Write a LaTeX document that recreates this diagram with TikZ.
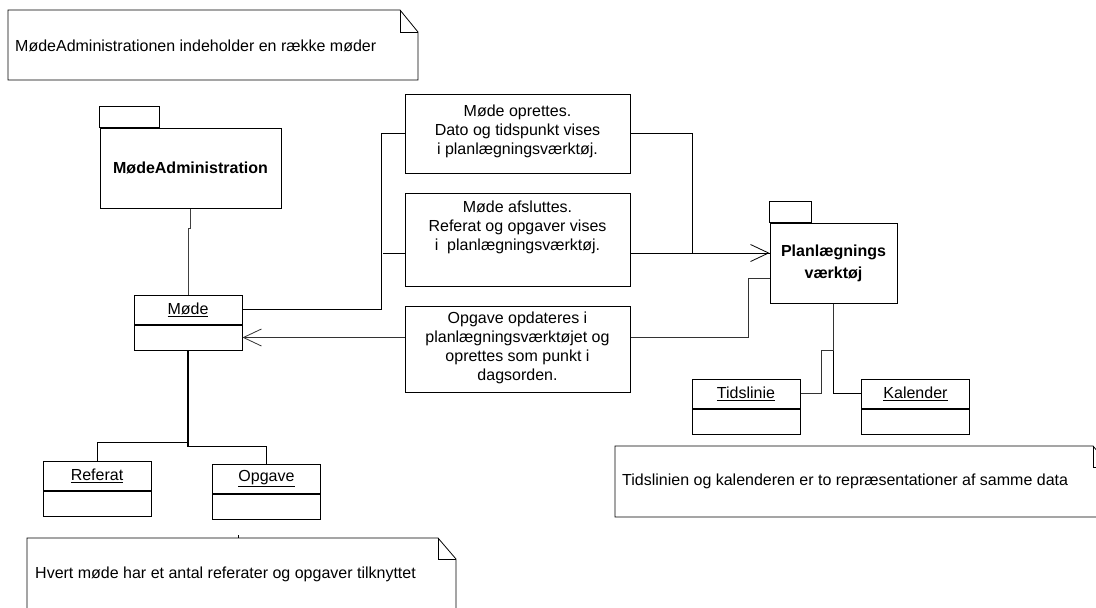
\documentclass[tikz,border=0pt]{standalone}
\usepackage{fontspec}
\setmainfont{Liberation Sans}
\usetikzlibrary{arrows.meta}

\tikzset{
  pkg/.style={draw, line width=1pt, inner sep=0pt, align=center,
    font=\fontsize{16}{22}\selectfont\bfseries},
  objhead/.style={draw, line width=1pt, minimum width=108pt, minimum height=29pt,
    inner sep=0pt, font=\fontsize{16}{19}\selectfont},
  objbody/.style={draw, line width=1pt, minimum width=108pt, minimum height=25pt,
    inner sep=0pt, anchor=north},
  msgbox/.style={draw, line width=1pt, minimum width=225pt, inner sep=0pt},
  msgtext/.style={align=center, inner sep=0pt, font=\fontsize{16}{19}\selectfont},
  notetext/.style={anchor=west, inner sep=0pt, font=\fontsize{16}{19}\selectfont},
  noteline/.style={line width=0.8pt},
  conn/.style={line width=0.8pt},
  arr/.style={conn, -{Straight Barb[length=18pt, width=17pt]}},
}

\begin{document}
\begin{tikzpicture}[x=1pt, y=-1pt]
  \useasboundingbox (0,0) rectangle (1096,608);
  \clip (0,0) rectangle (1096,608);
  % Notes
  \draw[noteline] (8,10) -- (400,10) -- (418,32) -- (418,80) -- (8,80) -- cycle;
  \draw[noteline] (400,10) -- (400,32) -- (418,32);
  \node[notetext] (noteadmin) at (15,46) {MødeAdministrationen indeholder en række møder};
  \draw[noteline] (615,446) -- (1093,446) -- (1111,467) -- (1111,517) -- (615,517) -- cycle;
  \draw[noteline] (1093,446) -- (1093,467) -- (1111,467);
  \node[notetext] (notedata) at (622,481) {Tidslinien og kalenderen er to repræsentationer af samme data};
  \draw[noteline] (27,538) -- (438,538) -- (456,559) -- (456,620) -- (27,620) -- cycle;
  \draw[noteline] (438,538) -- (438,559) -- (456,559);
  \draw[noteline] (238,535) -- (238,538);
  \node[notetext] (notemode) at (35,574) {Hvert møde har et antal referater og opgaver tilknyttet};
  % Packages
  \node[pkg, minimum width=181pt, minimum height=80pt] (admin) at (190.5,168) {MødeAdministration};
  \draw[line width=1pt] (admin.north west) rectangle ++(60,-21);
  \node[pkg, minimum width=127pt, minimum height=80pt] (plan) at (833.5,263) {Planlægnings\\værktøj};
  \draw[line width=1pt] (plan.north west) rectangle ++(42,-21);
  % Objects
  \node[objhead] (mode) at (188,309.5) {\underline{Møde}};
  \node[objbody] (modeb) at (mode.south) {};
  \node[objhead] (referat) at (97,475.5) {\underline{Referat}};
  \node[objbody] (referatb) at (referat.south) {};
  \node[objhead] (opgave) at (266.5,478.5) {\underline{Opgave}};
  \node[objbody] (opgaveb) at (opgave.south) {};
  \node[objhead] (tidslinie) at (746,393.5) {\underline{Tidslinie}};
  \node[objbody] (tidslinieb) at (tidslinie.south) {};
  \node[objhead] (kalender) at (915.5,393.5) {\underline{Kalender}};
  \node[objbody] (kalenderb) at (kalender.south) {};
  % Messages
  \node[msgbox, minimum height=79pt] (opret) at (517.5,133.5) {};
  \node[msgtext] (oprettxt) at (517.5,131) {Møde oprettes.\\Dato og tidspunkt vises\\i planlægningsværktøj.};
  \node[msgbox, minimum height=93pt] (afslut) at (517.5,239.5) {};
  \node[msgtext] (afsluttxt) at (517.5,227) {Møde afsluttes.\\Referat og opgaver vises\\i\ \ planlægningsværktøj.};
  \node[msgbox, minimum height=86pt] (opdater) at (517.5,349) {};
  \node[msgtext] (opdatertxt) at (517.5,348) {Opgave opdateres i\\planlægningsværktøjet og\\oprettes som punkt i\\dagsorden.};
  % Connectors
  \coordinate (planin) at ([yshift=10pt]plan.west);
  \coordinate (planout) at ([yshift=-15pt]plan.west);
  \draw[conn, black!75] (admin.south) -- ++(0,20) -| (mode.north);
  \draw[conn] (mode.east) -- ++(139,0) |- (opret.west);
  \draw[conn] (afslut.west |- planin) -- ++(-22,0);
  \draw[conn] (opret.east) -- ++(62,0) |- (planin);
  \draw[arr] (afslut.east |- planin) -- (planin);
  \draw[arr, black!80] (opdater.west |- modeb.east) -- (modeb.east);
  \draw[conn, black!80] (opdater.east |- modeb.east) -- ++(118,0) |- (planout);
  \draw[conn] (plan.south) |- (kalender.west);
  \draw[conn, black!80] (plan.south) -- ++(0,47) -- ++(-12,0) |- (tidslinie.east);
  \draw[conn] (modeb.south) -- ++(0,92) -| (referat.north);
  \draw[conn] (modeb.south) -- ++(0,96) -| (opgave.north);
  \draw[line width=1.4pt] (modeb.south) -- ++(0,96);
\end{tikzpicture}
\end{document}
